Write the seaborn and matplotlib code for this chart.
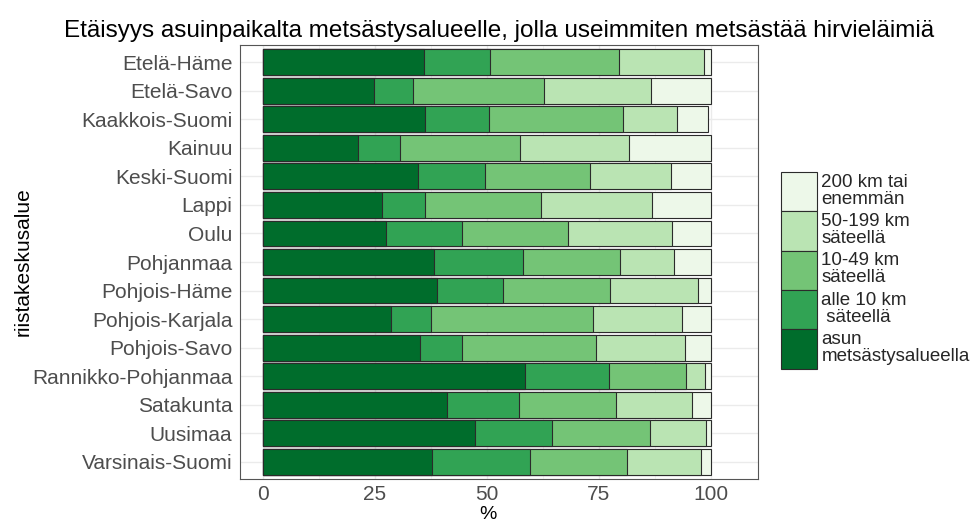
import numpy as np
import pandas as pd
import matplotlib
matplotlib.use("Agg")
import matplotlib.pyplot as plt
import seaborn as sns
from matplotlib.patches import Patch

# Data (% of hunters per distance class)
regions = ["Etelä-Häme", "Etelä-Savo", "Kaakkois-Suomi", "Kainuu", "Keski-Suomi",
           "Lappi", "Oulu", "Pohjanmaa", "Pohjois-Häme", "Pohjois-Karjala",
           "Pohjois-Savo", "Rannikko-Pohjanmaa", "Satakunta", "Uusimaa",
           "Varsinais-Suomi"]

asun = [36.0, 24.7, 36.2, 21.3, 34.7, 26.5, 27.4, 38.2, 38.8, 28.7, 35.1, 58.6, 41.1, 47.4, 37.8]
alle10 = [14.6, 8.8, 14.2, 9.3, 14.9, 9.7, 17.1, 19.9, 14.8, 8.9, 9.4, 18.6, 16.1, 17.2, 21.9]
km10_49 = [28.9, 29.3, 30.0, 26.8, 23.3, 25.9, 23.7, 21.7, 23.9, 36.0, 29.8, 17.3, 21.7, 21.9, 21.6]
km50_199 = [19.0, 23.8, 12.1, 24.3, 18.2, 24.8, 23.2, 12.0, 19.5, 20.0, 20.0, 4.2, 16.9, 12.5, 16.4]
km200 = [1.5, 13.4, 6.9, 18.3, 8.9, 13.1, 8.6, 8.2, 3.0, 6.4, 5.7, 1.3, 4.2, 0.9, 2.3]

series_labels = ["asun\nmetsästysalueella", "alle 10 km\n säteellä",
                 "10-49 km\nsäteellä", "50-199 km\nsäteellä", "200 km tai\nenemmän"]
colors = ["#006d2c", "#31a354", "#74c476", "#bae4b3", "#edf8e9"]

df = pd.DataFrame({"alue": regions, "s0": asun, "s1": alle10, "s2": km10_49,
                   "s3": km50_199, "s4": km200})
cols = ["s0", "s1", "s2", "s3", "s4"]
cum = df[cols].cumsum(axis=1)

sns.set_theme(style="white")
plt.rcParams["font.family"] = ["Liberation Sans", "DejaVu Sans"]

fig = plt.figure(figsize=(9.78, 5.24), dpi=100)
ax = fig.add_axes([240 / 978, 1 - 479 / 524, 518 / 978, 434 / 524])

# stacked bars: draw cumulative totals from the outermost segment inwards
for i in range(len(cols) - 1, -1, -1):
    sns.barplot(x=cum[cols[i]], y=df["alue"], order=regions, orient="h",
                color=colors[i], saturation=1, width=0.9, errorbar=None,
                edgecolor="#2b2b2b", linewidth=0.8, ax=ax)

ax.set_xlim(-5.1, 110.5)
ax.set_ylim(len(regions) - 1 + 0.6, -0.6)
ax.set_xticks([0, 25, 50, 75, 100])
ax.set_xticks([12.5, 37.5, 62.5, 87.5], minor=True)
ax.grid(True, which="major", color="#ebebeb", linewidth=1.0)
ax.grid(True, which="minor", axis="x", color="#f2f2f2", linewidth=0.6)
ax.set_axisbelow(True)

for s in ax.spines.values():
    s.set_visible(True)
    s.set_color("#555555")
    s.set_linewidth(0.8)

ax.tick_params(axis="both", which="major", length=3.5, width=0.8, color="#4d4d4d",
               labelsize=15, labelcolor="#4d4d4d", pad=2)
ax.tick_params(axis="x", which="major", pad=1)
ax.tick_params(axis="x", which="minor", length=0)

ax.set_xlabel("%", fontsize=14, color="black", labelpad=0)
ax.xaxis.set_label_coords(0.479, -0.062)
ax.set_ylabel("riistakeskusalue", fontsize=15, color="black")
ax.yaxis.set_label_coords(-0.40, 0.5)
ax.set_title("Etäisyys asuinpaikalta metsästysalueelle, jolla useimmiten metsästää hirvieläimiä",
             fontsize=17.5, color="black", pad=6)

handles = [Patch(facecolor=colors[i], edgecolor="#2b2b2b", linewidth=0.8,
                 label=series_labels[i]) for i in range(len(cols) - 1, -1, -1)]
leg = fig.legend(handles=handles, loc="upper left", bbox_to_anchor=(781 / 978, 1 - 172 / 524),
                 frameon=False, fontsize=13.5, handlelength=1.9, handleheight=2.85,
                 labelspacing=0.0, handletextpad=0.25, borderpad=0.0, borderaxespad=0.0)
for t in leg.get_texts():
    t.set_linespacing(1.0)

fig.savefig("out.png", dpi=100)
